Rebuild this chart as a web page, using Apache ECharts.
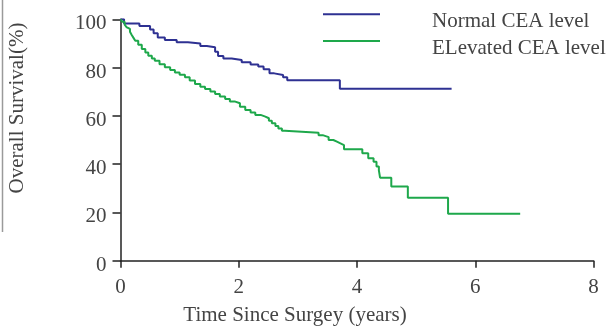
<!DOCTYPE html>
<html>
<head>
<meta charset="utf-8">
<script src="https://cdn.jsdelivr.net/npm/echarts@6/dist/echarts.min.js"></script>
<style>
html,body{margin:0;padding:0;background:#fff;}
#chart{width:608px;height:327px;}
</style>
</head>
<body>
<div id="chart"></div>
<script>
// Series names
const seriesNames = ['Normal CEA level', 'ELevated CEA level'];
// Kaplan-Meier points: time (years) and survival (%)
const normalTime = [0, 0.06, 0.32, 0.50, 0.56, 0.63, 0.75, 0.95, 1.14, 1.35, 1.46, 1.60, 1.65, 1.74, 1.88, 2.05, 2.20, 2.33, 2.42, 2.52, 2.60, 2.75, 2.82, 3.71, 5.60];
const normalSurv = [100, 98.3, 97.2, 95.8, 94.2, 92.5, 91.4, 90.5, 90.0, 88.9, 88.4, 86.6, 84.8, 83.8, 83.1, 82.2, 81.3, 80.4, 79.3, 77.6, 76.9, 76.0, 74.8, 71.2, 71.2];
const elevTime = [0, 0.03, 0.07, 0.10, 0.13, 0.16, 0.19, 0.22, 0.25, 0.30, 0.36, 0.42, 0.47, 0.53, 0.58, 0.66, 0.75, 0.84, 0.92, 1.00, 1.09, 1.17, 1.26, 1.35, 1.43, 1.52, 1.60, 1.68, 1.77, 1.85, 1.93, 2.02, 2.11, 2.20, 2.28, 2.37, 2.45, 2.51, 2.56, 2.62, 2.67, 2.73, 2.78, 3.35, 3.42, 3.52, 3.60, 3.66, 3.72, 3.78, 4.09, 4.19, 4.28, 4.33, 4.37, 4.39, 4.58, 4.86, 5.54, 6.76];
const elevSurv = [100, 99.0, 97.8, 96.8, 96.0, 94.8, 93.5, 92.3, 91.1, 89.5, 87.7, 86.2, 84.9, 83.8, 82.8, 81.4, 80.1, 79, 78, 77, 76, 74.6, 73.2, 72.1, 71.1, 70.1, 69.1, 68, 67, 66, 65.2, 63.8, 62.4, 61.4, 60.4, 59.7, 59, 58, 56.9, 55.8, 54.8, 53.8, 53, 52, 51.2, 50, 49.3, 48.6, 47.9, 46.2, 44.5, 42.4, 41, 39, 37.4, 34.4, 30.7, 26.1, 19.5, 19.5];
// Axis ticks
const xTicks = {min: 0, max: 8, interval: 2};
const yTicks = {min: 0, max: 100, interval: 20};

const colors = ['#2e3192', '#1ea84b'];
const font = 'Liberation Serif';
const fs = 21;
const textColor = '#444';
const axisColor = '#222';

const zip = (a, b) => a.map((v, i) => [v, b[i]]);

const chart = echarts.init(document.getElementById('chart'));
const legendBase = {
  orient: 'vertical', left: 323, itemWidth: 57, itemHeight: 2, icon: 'rect',
  itemGap: 0, padding: 0,
  formatter: name => '\n' + name,
  textStyle: {fontFamily: font, fontSize: fs, color: textColor, lineHeight: 15, padding: [0, 0, 0, 47]}
};
chart.setOption({
  animation: false,
  color: colors,
  grid: {left: 120.5, right: 14.5, top: 19.3, bottom: 66.3, containLabel: false, outerBoundsMode: 'none'},
  legend: [
    Object.assign({}, legendBase, {data: [seriesNames[0]], top: -3.7}),
    Object.assign({}, legendBase, {data: [seriesNames[1]], top: 23})
  ],
  xAxis: {
    type: 'value', min: xTicks.min, max: xTicks.max, interval: xTicks.interval,
    name: 'Time Since Surgey (years)', nameLocation: 'middle', nameGap: 44,
    nameTextStyle: {fontFamily: font, fontSize: fs, color: textColor, padding: [0, 124, 0, 0]},
    axisLine: {lineStyle: {color: axisColor, width: 1.5}},
    axisTick: {length: 7, lineStyle: {color: axisColor, width: 1.5}},
    axisLabel: {fontFamily: font, fontSize: fs, color: textColor, margin: 16},
    splitLine: {show: false}
  },
  yAxis: {
    type: 'value', min: yTicks.min, max: yTicks.max, interval: yTicks.interval,
    name: 'Overall Survival(%)', nameLocation: 'middle', nameGap: 93,
    nameTextStyle: {fontFamily: font, fontSize: fs, color: textColor, padding: [0, 0, 0, 64]},
    axisLine: {show: true, lineStyle: {color: axisColor, width: 1.5}},
    axisTick: {show: true, length: 8, lineStyle: {color: axisColor, width: 1.5}},
    axisLabel: {fontFamily: font, fontSize: fs, color: textColor, margin: 14, verticalAlign: 'top', lineHeight: 9},
    splitLine: {show: false}
  },
  graphic: [{
    type: 'line', shape: {x1: 2.5, y1: 0, x2: 2.5, y2: 232},
    style: {stroke: '#9a9a9a', lineWidth: 1.5}
  }],
  series: [
    {name: seriesNames[0], type: 'line', step: 'end', showSymbol: false, data: zip(normalTime, normalSurv), lineStyle: {width: 2}},
    {name: seriesNames[1], type: 'line', step: 'end', showSymbol: false, data: zip(elevTime, elevSurv), lineStyle: {width: 2}}
  ]
});
</script>
</body>
</html>
